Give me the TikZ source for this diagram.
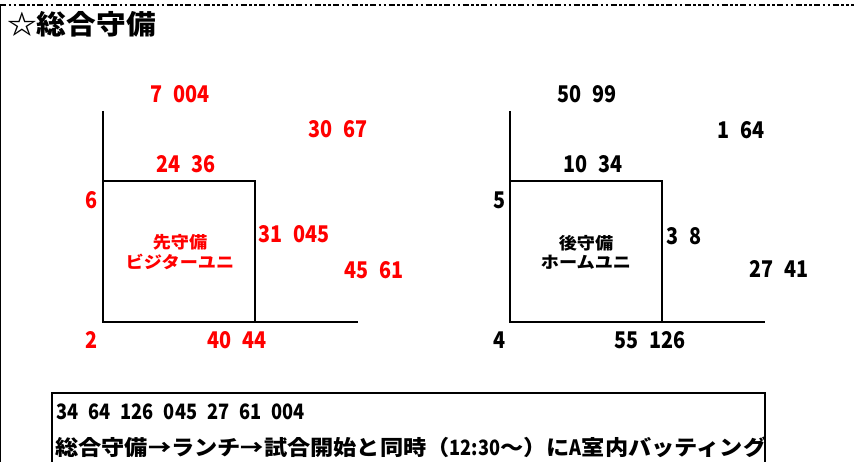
\documentclass[tikz,border=0pt]{standalone}
\usepackage{fontspec}
\newfontfamily\jpf{Noto Sans CJK JP}[FakeStretch=1.1]
\newfontfamily\numf{Noto Sans CJK JP}[FakeStretch=0.86,WordSpace=2.4]
\definecolor{lblred}{RGB}{255,0,0}
\tikzset{
  lab/.style={inner sep=0pt, font={\numf\bfseries\fontsize{23}{26}\selectfont}},
  redlab/.style={lab, text=lblred},
  blklab/.style={lab, text=black},
  mid/.style={inner sep=0pt, font={\jpf\bfseries\fontsize{16.5}{18}\selectfont}},
  diag/.style={line width=1.2pt, black},
  boxline/.style={line width=1.5pt, black},
}
\begin{document}
\begin{tikzpicture}[x=1pt,y=-1pt]
\useasboundingbox (0,0) rectangle (854,462);
\clip (0,0) rectangle (854,462);
% frame
\draw[line width=2.5pt, dash pattern=on 6pt off 2.5pt on 2.5pt off 2.5pt on 2.5pt off 2.5pt] (0,5) -- (854,5);
\draw[line width=1pt] (0.5,5) -- (0.5,462);
% title
\node[inner sep=0pt, anchor=west, font={\jpf\bfseries\fontsize{27}{30}\selectfont}] (title) at (7,24) {☆総合守備};

% left diagram (visitor)
\coordinate (L1) at (103,111);
\coordinate (L2) at (103,181);
\coordinate (L3) at (255,181);
\coordinate (L4) at (255,322);
\coordinate (L5) at (103,322);
\coordinate (L6) at (358,322);
\draw[diag] (L1) -- (L5) -- (L6);
\draw[diag] (L2) -- (L3) -- (L4);
\node[redlab] (a1) at (180,94) {7 004};
\node[redlab] (a2) at (338,129) {30 67};
\node[redlab] (a3) at (186,164) {24 36};
\node[redlab] (a4) at (92,200) {6};
\node[redlab] (a5) at (294,234) {31 045};
\node[redlab] (a6) at (374,270) {45 61};
\node[redlab] (a7) at (92,340) {2};
\node[redlab] (a8) at (237,340) {40 44};
\node[mid, text=lblred] (am1) at (180,242) {先守備};
\node[mid, text=lblred] (am2) at (180,262) {ビジターユニ};

% right diagram (home)
\coordinate (R1) at (510,111);
\coordinate (R2) at (510,181);
\coordinate (R3) at (662,181);
\coordinate (R4) at (662,322);
\coordinate (R5) at (510,322);
\coordinate (R6) at (765,322);
\draw[diag] (R1) -- (R5) -- (R6);
\draw[diag] (R2) -- (R3) -- (R4);
\node[blklab] (b1) at (587,94) {50 99};
\node[blklab] (b2) at (741,130) {1 64};
\node[blklab] (b3) at (593,164) {10 34};
\node[blklab] (b4) at (500,200) {5};
\node[blklab] (b5) at (684,236) {3 8};
\node[blklab] (b6) at (779,269) {27 41};
\node[blklab] (b7) at (500,340) {4};
\node[blklab] (b8) at (650,340) {55 126};
\node[mid] (bm1) at (586,243) {後守備};
\node[mid] (bm2) at (586,262) {ホームユニ};

% bottom box
\draw[boxline] (52,393) rectangle (765,475);
\node[inner sep=0pt, anchor=west, font={\numf\bfseries\fontsize{21.2}{24}\selectfont}] (n1) at (56,412) {34 64 126 045 27 61 004};
\node[inner sep=0pt, anchor=west, font={\jpf\bfseries\fontsize{21.1}{24}\selectfont}] (n2) at (55,447) {総合守備→ランチ→試合開始と同時（{\numf 12:30}～）に{\numf A}室内バッティング};
\end{tikzpicture}
\end{document}
